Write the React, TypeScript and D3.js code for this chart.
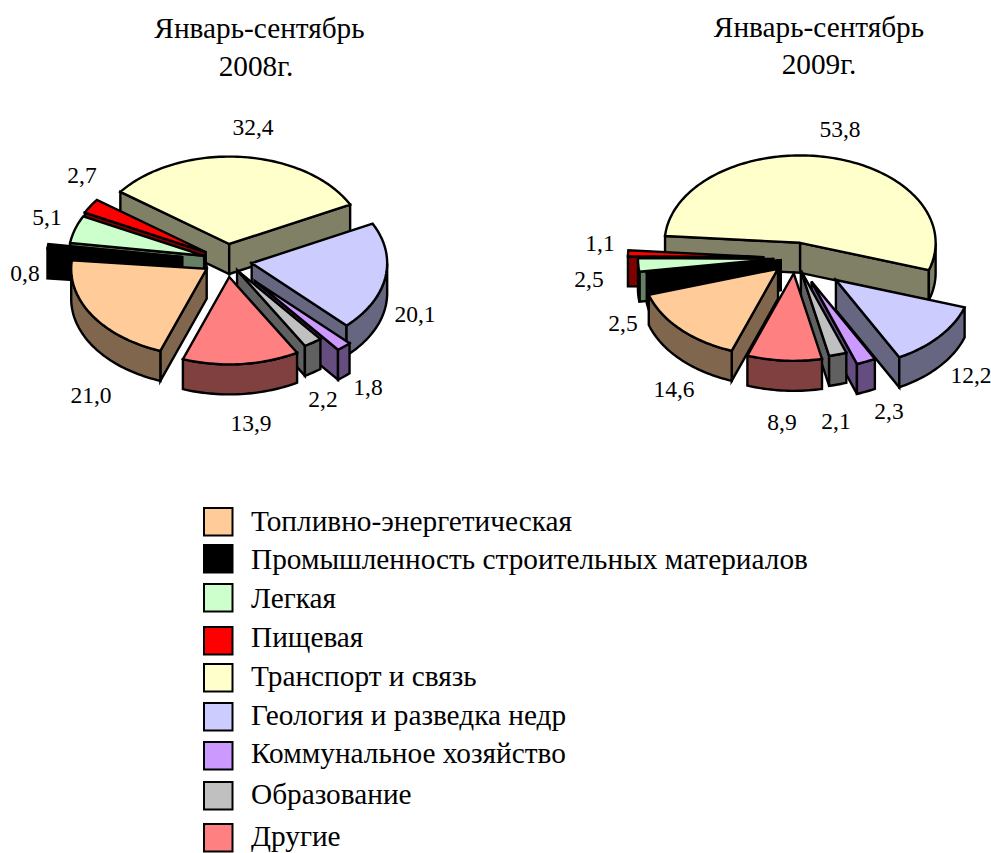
import React from "react";
import * as d3 from "d3";

const categories = [
  "Топливно-энергетическая",
  "Промышленность строительных материалов",
  "Легкая",
  "Пищевая",
  "Транспорт и связь",
  "Геология и разведка недр",
  "Коммунальное хозяйство",
  "Образование",
  "Другие",
];
const values2008 = [21.0, 0.8, 5.1, 2.7, 32.4, 20.1, 1.8, 2.2, 13.9];
const values2009 = [14.6, 2.5, 2.5, 1.1, 53.8, 12.2, 2.3, 2.1, 8.9];
const titleLine1 = "Январь-сентябрь";
const titles2008 = "2008г.";
const titles2009 = "2009г.";

const colors = ["#FFCC99", "#000000", "#CCFFCC", "#FF0000", "#FFFFCC", "#CCCCFF", "#CC99FF", "#C0C0C0", "#FF8080"];

// Layout only
const explode2008 = [24, 45, 24, 25, 25.7, 25, 42, 18, 25.7];
const explode2009 = [24, 15, 22, 32, 24, 53, 40, 20, 24];
const labelPos2008: [number, number][] = [[91, 403], [25, 281], [47, 225], [82, 183], [253, 135], [415, 322], [368, 395], [323, 407], [251, 431]];
const labelPos2009: [number, number][] = [[674, 397], [623, 331], [589, 287], [600, 251], [840, 137], [971, 383], [889, 419], [836, 429], [782, 430]];
const legendSwatchTop = [508, 545, 584, 627, 664, 703, 742, 782, 824];
const legendBaseline = [531, 569, 608, 647, 686, 725, 763, 804, 846];
const paintOrder = [4, 3, 2, 1, 0, 5, 6, 7, 8];

const RX = 135.5;
const KY = 0.645;
const DEPTH = 30;
const FONT = "'Liberation Serif', 'Times New Roman', serif";
const deg = Math.PI / 180;
const fmt = (v: number) => v.toFixed(1).replace(".", ",");
const line = d3.line<[number, number]>().x((d) => d[0]).y((d) => d[1]);

function Pie3D({ values, explode, cx, cy }: { values: number[]; explode: number[]; cx: number; cy: number }) {
  const arcs = d3.pie<number>().sort(null).startAngle(200 * deg).endAngle(560 * deg)(values);
  const scaleX = d3.scaleLinear().domain([0, 1]).range([0, RX]);
  const scaleY = d3.scaleLinear().domain([0, 1]).range([0, -RX * KY]);

  const items = paintOrder.map((i) => {
    const a = arcs[i];
    const mid = (a.startAngle + a.endAngle) / 2;
    const ox = cx + explode[i] * Math.sin(mid);
    const oy = cy - explode[i] * Math.cos(mid) * KY;
    const pt = (t: number, dz = 0): [number, number] => [
      ox + scaleX(Math.sin(t)),
      oy + scaleY(Math.cos(t)) + dz,
    ];
    const apex: [number, number] = [ox, oy];
    const sample = (t0: number, t1: number, dz = 0) => {
      const n = Math.max(2, Math.ceil(((t1 - t0) / deg) / 1.5));
      return d3.range(n + 1).map((k) => pt(t0 + ((t1 - t0) * k) / n, dz));
    };
    const top = [apex, ...sample(a.startAngle, a.endAngle)];
    const walls: [number, number][][] = [];
    if (Math.sin(a.startAngle) < 0) {
      const p = pt(a.startAngle);
      walls.push([apex, p, [p[0], p[1] + DEPTH], [ox, oy + DEPTH]]);
    }
    if (Math.sin(a.endAngle) > 0) {
      const p = pt(a.endAngle);
      walls.push([apex, p, [p[0], p[1] + DEPTH], [ox, oy + DEPTH]]);
    }
    for (const [r0, r1] of [[90 * deg, 270 * deg], [450 * deg, 630 * deg]]) {
      const t0 = Math.max(a.startAngle, r0);
      const t1 = Math.min(a.endAngle, r1);
      if (t1 > t0) {
        walls.push([...sample(t0, t1), ...sample(t0, t1, DEPTH).reverse()]);
      }
    }
    return { i, top, walls };
  });

  return (
    <g stroke="#000" strokeWidth={2.4} strokeLinejoin="miter">
      {items.map(({ i, top, walls }) => (
        <g key={i}>
          {walls.map((w, k) => (
            <path key={k} d={line(w) + "Z"} fill={d3.interpolateRgb(colors[i], "#000")(0.5)} />
          ))}
          <path d={line(top) + "Z"} fill={colors[i]} />
        </g>
      ))}
    </g>
  );
}

export default function App() {
  return (
    <svg
      width={991}
      height={853}
      viewBox="0 0 991 853"
      style={{ position: "absolute", left: 0, top: 0, background: "#fff" }}
      fontFamily={FONT}
      fill="#000"
    >
      <g fontSize={29.3} textAnchor="middle">
        <text x={259.5} y={38}>{titleLine1}</text>
        <text x={256} y={75.5}>{titles2008}</text>
        <text x={819} y={37}>{titleLine1}</text>
        <text x={819} y={73.5}>{titles2009}</text>
      </g>
      <Pie3D values={values2008} explode={explode2008} cx={227} cy={260.5} />
      <Pie3D values={values2009} explode={explode2009} cx={795.4} cy={258} />
      <g fontSize={23.5} textAnchor="middle">
        {values2008.map((v, i) => (
          <text key={i} x={labelPos2008[i][0]} y={labelPos2008[i][1]}>{fmt(v)}</text>
        ))}
        {values2009.map((v, i) => (
          <text key={i} x={labelPos2009[i][0]} y={labelPos2009[i][1]}>{fmt(v)}</text>
        ))}
      </g>
      <g>
        {categories.map((c, i) => (
          <g key={c}>
            <rect x={204} y={legendSwatchTop[i]} width={28.5} height={27.5} fill={colors[i]} stroke="#000" strokeWidth={2} />
            <text x={251} y={legendBaseline[i]} fontSize={29.3}>{c}</text>
          </g>
        ))}
      </g>
    </svg>
  );
}
